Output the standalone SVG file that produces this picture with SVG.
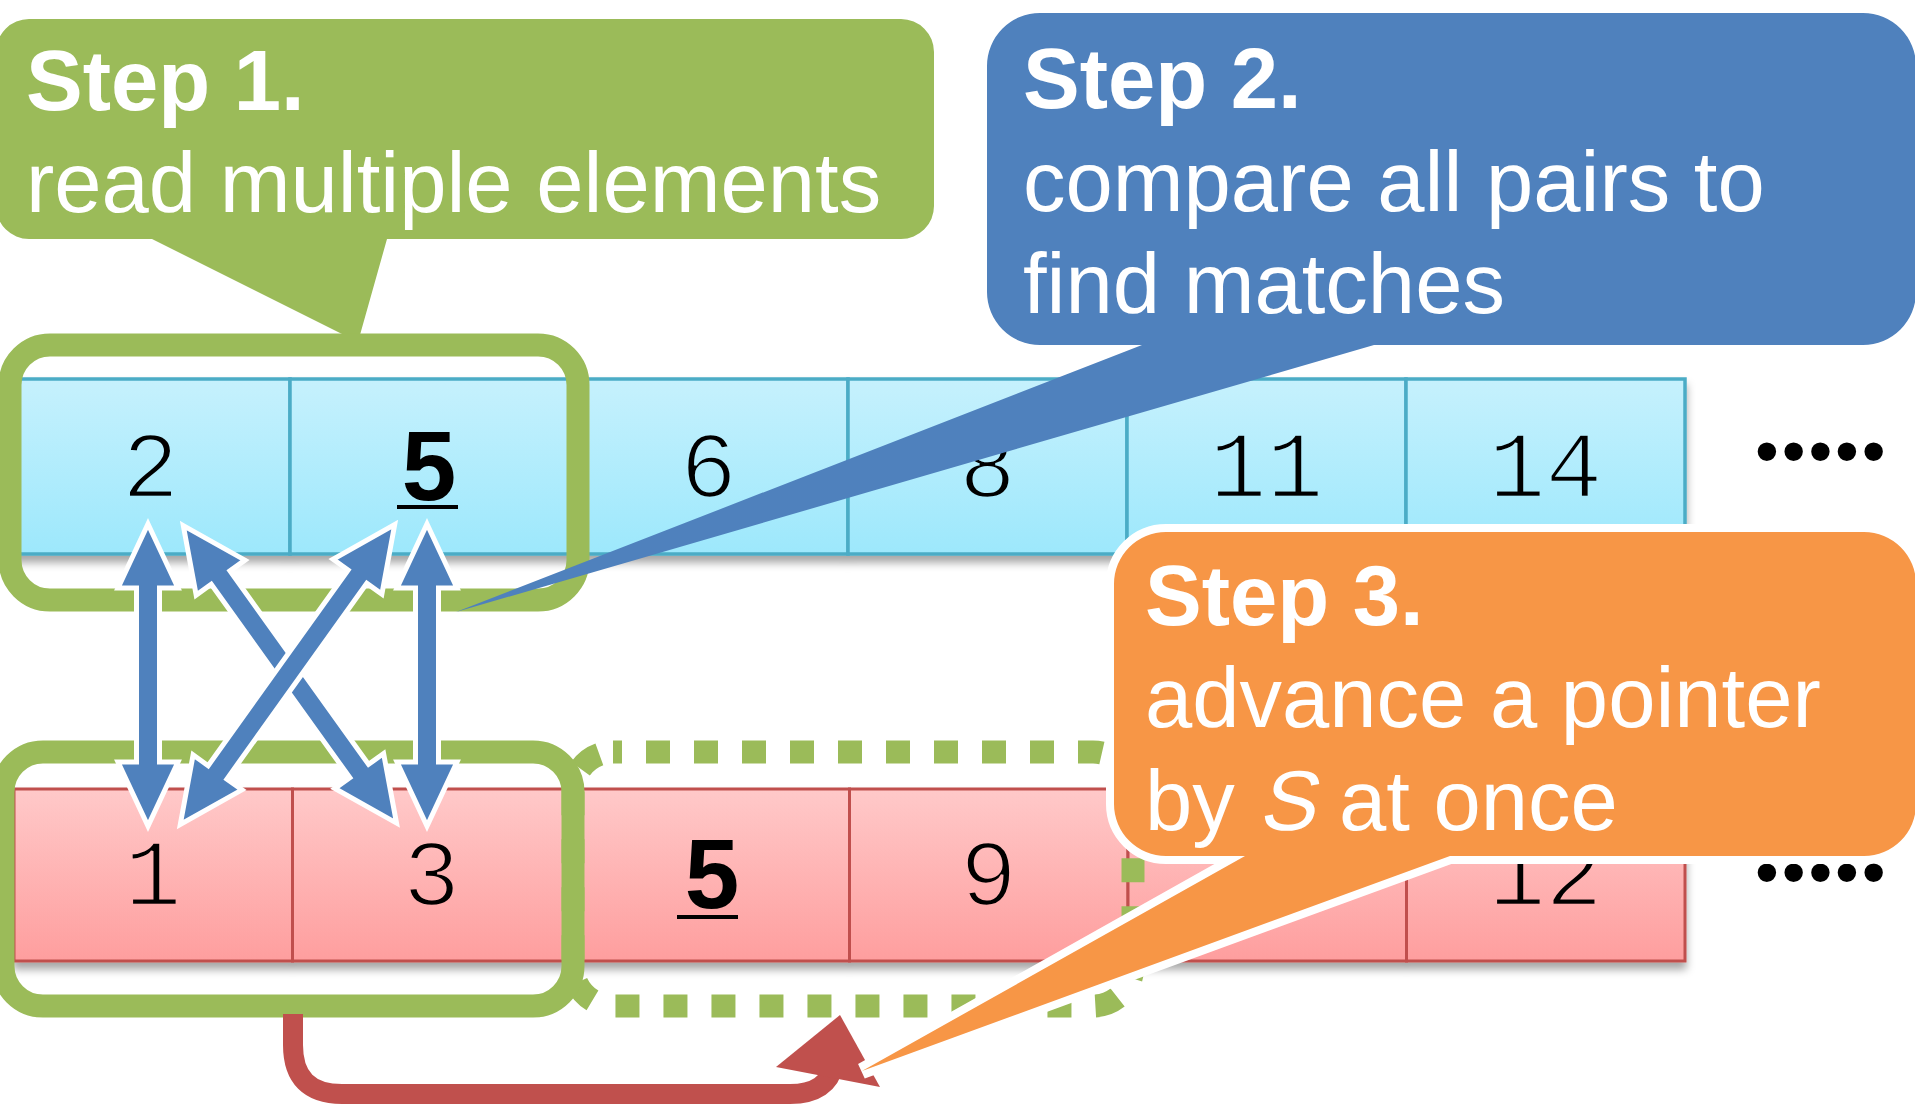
<svg xmlns="http://www.w3.org/2000/svg" width="1915" height="1107" viewBox="0 0 1915 1107">
<defs>
  <linearGradient id="cyanGrad" x1="0" y1="0" x2="0" y2="1">
    <stop offset="0" stop-color="#c6f1fd"/>
    <stop offset="1" stop-color="#9de8fc"/>
  </linearGradient>
  <linearGradient id="pinkGrad" x1="0" y1="0" x2="0" y2="1">
    <stop offset="0" stop-color="#ffc9c9"/>
    <stop offset="1" stop-color="#fe9e9e"/>
  </linearGradient>
  <linearGradient id="cyanU" gradientUnits="userSpaceOnUse" x1="0" y1="379" x2="0" y2="554">
    <stop offset="0" stop-color="#c6f1fd"/>
    <stop offset="1" stop-color="#9de8fc"/>
  </linearGradient>
  <linearGradient id="pinkU" gradientUnits="userSpaceOnUse" x1="0" y1="789" x2="0" y2="961">
    <stop offset="0" stop-color="#ffc9c9"/>
    <stop offset="1" stop-color="#fe9e9e"/>
  </linearGradient>
  <filter id="shadow" x="-5%" y="-10%" width="110%" height="140%">
    <feDropShadow dx="0" dy="7" stdDeviation="4" flood-color="#000" flood-opacity="0.35"/>
  </filter>
</defs>
<style>
  .ct{font-family:"Liberation Sans",Arial,sans-serif;fill:#fff;font-size:85px}
  .b{font-weight:bold}
  .num{font-family:"Liberation Mono","Courier New",monospace;font-size:95px;text-anchor:middle;fill:#000;stroke-width:2.6px}
  .numT{stroke:url(#cyanU)}
  .numB{stroke:url(#pinkU)}
  .numb{font-family:"Liberation Sans",Arial,sans-serif;font-weight:bold;font-size:98px;text-anchor:middle;fill:#000}
  .cellC{fill:url(#cyanGrad);stroke:#4bacc6;stroke-width:3.5}
  .cellP{fill:url(#pinkGrad);stroke:#c0504d;stroke-width:3}
  .outline{fill:none;stroke:#9bbb59;stroke-width:23}
  .dash{stroke-dasharray:24 24;stroke-dashoffset:15}
  .barrow{fill:#4f81bd;stroke:#fff;stroke-width:5;stroke-linejoin:miter;stroke-miterlimit:10}
  .dots{font-family:"Liberation Sans",Arial,sans-serif;font-size:68px;letter-spacing:2.9px;fill:#000}
  .ul{stroke:#000;stroke-width:4}
</style>

<!-- Step 1 callout -->
<g id="step1">
  <path fill="#9bbb59" d="M29 19 H901 A33 33 0 0 1 934 52 V206 A33 33 0 0 1 901 239 H387 L358 342 L152 239 H29 A33 33 0 0 1 -4 206 V52 A33 33 0 0 1 29 19 Z"/>
  <text class="ct b" x="26" y="110">Step 1.</text>
  <text class="ct" x="26" y="212">read multiple elements</text>
</g>

<!-- Top array -->
<g id="arrayTop">
  <g filter="url(#shadow)">
    <rect class="cellC" x="11" y="379" width="279" height="175"/>
    <rect class="cellC" x="290" y="379" width="279" height="175"/>
    <rect class="cellC" x="569" y="379" width="279" height="175"/>
    <rect class="cellC" x="848" y="379" width="279" height="175"/>
    <rect class="cellC" x="1127" y="379" width="279" height="175"/>
    <rect class="cellC" x="1406" y="379" width="279" height="175"/>
  </g>
  <text class="num numT" x="150.5" y="497">2</text>
  <text class="numb" x="429" y="500">5</text>
  <line class="ul" x1="397" y1="507" x2="458" y2="507"/>
  <text class="num numT" x="708.5" y="497">6</text>
  <text class="num numT" x="987.5" y="497">8</text>
  <text class="num numT" x="1266.5" y="497">11</text>
  <text class="num numT" x="1545.5" y="497">14</text>
  <text class="dots" x="1755" y="474">•••••</text>
</g>

<!-- Bottom array -->
<g id="arrayBottom">
  <g filter="url(#shadow)">
    <rect class="cellP" x="14" y="789" width="278.5" height="172"/>
    <rect class="cellP" x="292.5" y="789" width="278.5" height="172"/>
    <rect class="cellP" x="571" y="789" width="278.5" height="172"/>
    <rect class="cellP" x="849.5" y="789" width="278.5" height="172"/>
    <rect class="cellP" x="1128" y="789" width="278.5" height="172"/>
    <rect class="cellP" x="1406.5" y="789" width="278.5" height="172"/>
  </g>
  <text class="num numB" x="153" y="905">1</text>
  <text class="num numB" x="431.5" y="905">3</text>
  <text class="numb" x="712" y="908">5</text>
  <line class="ul" x1="677" y1="917" x2="738" y2="917"/>
  <text class="num numB" x="988.5" y="905">9</text>
  <text class="num numB" x="1545.5" y="905">12</text>
  <text class="dots" x="1755" y="895">•••••</text>
</g>

<!-- selection outlines -->
<g id="selNext">
  <rect class="outline dash" x="573" y="752" width="560" height="254" rx="40"/>
</g>
<g id="selTop">
  <rect class="outline" x="10" y="345" width="568" height="255" rx="40"/>
</g>
<g id="selBottom">
  <rect class="outline" x="3" y="752" width="570" height="254" rx="40"/>
</g>

<!-- Step 2 callout -->
<g id="step2">
  <path fill="#4f81bd" d="M1040 13 H1863 A53 53 0 0 1 1916 66 V292 A53 53 0 0 1 1863 345 H1374 L456 612 L1142 345 H1040 A53 53 0 0 1 987 292 V66 A53 53 0 0 1 1040 13 Z"/>
  <text class="ct b" x="1023" y="108">Step 2.</text>
  <text class="ct" x="1023" y="211">compare all pairs to</text>
  <text class="ct" x="1023" y="313">find matches</text>
</g>

<!-- connectors -->
<g id="connectors">
  <path class="barrow" transform="translate(148 524) rotate(90)" d="M0 0 L64 -30 L64 -11.5 L238 -11.5 L238 -30 L302 0 L238 30 L238 11.5 L64 11.5 L64 30 Z"/>
  <path class="barrow" transform="translate(427 524) rotate(90)" d="M0 0 L64 -30 L64 -11.5 L238 -11.5 L238 -30 L302 0 L238 30 L238 11.5 L64 11.5 L64 30 Z"/>
  <path class="barrow" transform="translate(183.3 525.6) rotate(54.37)" d="M0 0 L64 -30 L64 -11.5 L302 -11.5 L302 -30 L366 0 L302 30 L302 11.5 L64 11.5 L64 30 Z"/>
  <path class="barrow" transform="translate(394.7 524.6) rotate(125.57)" d="M0 0 L64 -30 L64 -11.5 L304.6 -11.5 L304.6 -30 L368.6 0 L304.6 30 L304.6 11.5 L64 11.5 L64 30 Z"/>
  <path fill="none" stroke="#c0504d" stroke-width="20" d="M293 1014 V1045 Q293 1094 342 1094 H790 Q828 1094 834 1064 L838 1045"/>
  <path fill="#c0504d" d="M840 1015 L880 1087 L776 1067 Z"/>
</g>

<!-- Step 3 callout -->
<g id="step3">
  <path fill="#f79646" stroke="#fff" stroke-width="16" stroke-linejoin="miter" paint-order="stroke" d="M1166 532 H1864 A52 52 0 0 1 1916 584 V804 A52 52 0 0 1 1864 856 H1450 L862 1071 L1245 856 H1166 A52 52 0 0 1 1114 804 V584 A52 52 0 0 1 1166 532 Z"/>
  <text class="ct b" x="1145" y="625">Step 3.</text>
  <text class="ct" x="1145" y="727">advance a pointer</text>
  <text class="ct" x="1145" y="830">by</text>
  <text class="ct" transform="translate(1258 830) skewX(-12)" x="0" y="0">S</text>
  <text class="ct" x="1339" y="830">at once</text>
</g>
</svg>
